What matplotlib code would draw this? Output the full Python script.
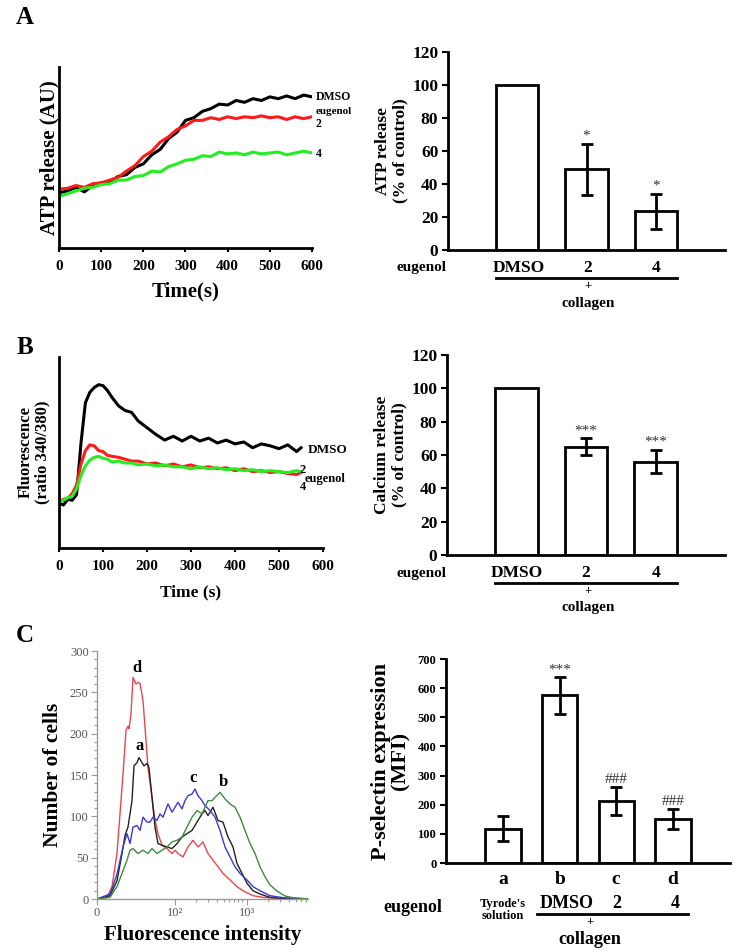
import numpy as np
import matplotlib
matplotlib.use("Agg")
import matplotlib.pyplot as plt
from matplotlib.lines import Line2D

plt.rcParams['font.family'] = ['Liberation Serif', 'DejaVu Serif']
plt.rcParams['font.weight'] = 'bold'
plt.rcParams['axes.labelweight'] = 'bold'
plt.rcParams['axes.linewidth'] = 2

# ---- Panel A: ATP release traces ----
a_time = np.arange(0, 601, 20)
a_dmso = [30.5, 31.5, 33.5, 31.0, 34.5, 36.0, 36.5, 39.5, 40.5, 44.5, 46.5, 51.5, 54.5, 60.5, 64.0, 70.5,
          72.0, 75.5, 77.0, 79.5, 79.0, 81.5, 80.5, 82.5, 81.5, 83.5, 82.5, 84.0, 82.5, 84.5, 83.5]
a_eug2 = [32.5, 33.0, 34.5, 33.5, 35.5, 36.0, 37.5, 39.0, 42.5, 45.5, 50.5, 53.5, 58.5, 61.5, 65.5, 67.5,
          70.5, 70.5, 72.0, 71.0, 72.5, 71.5, 72.5, 72.0, 73.0, 72.0, 72.5, 71.0, 72.5, 71.5, 72.5]
a_eug4 = [28.5, 30.0, 31.5, 33.0, 33.5, 35.0, 35.5, 37.5, 37.5, 39.5, 40.0, 42.5, 42.0, 45.0, 46.5, 48.5,
          49.0, 51.0, 50.5, 53.0, 52.0, 52.5, 51.5, 53.0, 52.0, 52.5, 53.0, 51.5, 52.5, 53.5, 52.5]

# ---- Panel A: ATP release bars ----
groups = ['DMSO', '2', '4']
atp_mean = [100, 49, 23.5]
atp_err = [0, 15.5, 10.5]
atp_sig = ['', '*', '*']

# ---- Panel B: calcium traces ----
b_time = [0, 10, 20, 30, 40, 50, 60, 70, 80, 90, 100, 110, 120, 135, 150, 165, 180, 200, 220, 240, 260,
          280, 300, 320, 340, 360, 380, 400, 420, 440, 460, 480, 500, 520, 540, 550]
b_dmso = [23.5, 22.5, 25.5, 25.0, 28.0, 55.0, 76.0, 81.5, 84.0, 85.5, 85.0, 82.5, 79.0, 74.5, 72.0, 71.0,
          66.5, 63.0, 59.5, 56.5, 58.5, 56.0, 58.5, 56.0, 57.5, 55.0, 56.5, 54.5, 55.5, 52.5, 54.5, 53.5,
          52.0, 54.0, 50.5, 52.5]
b_eug2 = [24.0, 25.5, 26.0, 28.5, 33.0, 44.0, 51.0, 54.0, 53.5, 51.0, 50.5, 48.5, 48.0, 47.5, 46.5, 45.5,
          45.5, 44.0, 44.5, 43.0, 44.0, 42.5, 43.5, 42.0, 42.5, 41.5, 42.0, 40.5, 41.5, 40.0, 40.5, 39.5,
          40.0, 39.0, 38.5, 39.5]
b_eug4 = [24.0, 25.0, 26.5, 27.0, 31.0, 38.0, 43.0, 46.0, 47.5, 48.0, 47.0, 46.5, 45.0, 45.5, 44.5, 44.5,
          43.5, 44.0, 43.0, 43.5, 42.5, 42.5, 41.5, 42.5, 41.5, 42.0, 41.0, 41.5, 40.5, 41.0, 40.0, 40.5,
          40.0, 39.5, 40.5, 40.0]

# ---- Panel B: calcium bars ----
ca_mean = [100, 65, 56]
ca_err = [0, 5, 7]
ca_sig = ['', '***', '***']

# ---- Panel C: flow cytometry histograms (x = display channel) ----
red_x = [0, 10, 15, 20, 23, 26, 29, 31, 32, 34, 36, 39, 41, 43, 46, 48, 51, 55, 58, 61, 65, 70, 75, 78, 81,
         86, 91, 96, 101, 106, 111, 116, 121, 126, 133, 140, 146, 156, 166, 183, 211]
red_y = [0, 2, 15, 55, 103, 151, 204, 209, 206, 224, 268, 260, 262, 261, 240, 208, 159, 123, 95, 79, 65, 61,
         55, 59, 55, 51, 63, 71, 63, 69, 55, 47, 39, 31, 23, 15, 10, 4, 2, 0.5, 0]
black_x = [0, 13, 20, 25, 28, 31, 35, 37, 40, 42, 45, 47, 50, 52, 55, 58, 61, 65, 70, 75, 80, 85, 90, 95, 100,
           105, 108, 111, 116, 121, 126, 131, 136, 140, 145, 150, 156, 163, 173, 186, 211]
black_y = [0, 4, 22, 55, 77, 87, 119, 161, 165, 171, 165, 161, 164, 159, 123, 87, 67, 65, 63, 61, 67, 75, 79,
           83, 93, 103, 107, 101, 111, 95, 93, 75, 63, 43, 31, 19, 10, 6, 2, 0.5, 0]
blue_x = [0, 13, 20, 26, 30, 33, 36, 40, 43, 46, 50, 53, 56, 60, 63, 66, 71, 75, 78, 81, 85, 88, 91, 95, 98,
          101, 105, 108, 113, 118, 123, 128, 133, 138, 143, 150, 156, 163, 173, 186, 206, 211]
blue_y = [0, 6, 30, 63, 79, 67, 87, 89, 83, 99, 93, 93, 99, 95, 103, 99, 115, 105, 111, 117, 109, 119, 125,
          127, 133, 125, 119, 113, 107, 99, 83, 63, 51, 39, 31, 23, 15, 10, 4, 1.6, 0.5, 0]
green_x = [0, 13, 20, 25, 30, 33, 36, 41, 46, 51, 55, 60, 65, 70, 75, 80, 85, 90, 95, 100, 105, 111, 115, 118,
           123, 128, 133, 138, 143, 148, 153, 158, 163, 168, 173, 180, 188, 196, 211]
green_y = [0, 2, 15, 31, 47, 59, 61, 55, 59, 55, 61, 55, 59, 63, 69, 71, 75, 87, 99, 107, 103, 119, 119, 123,
           129, 121, 115, 111, 99, 83, 67, 55, 39, 27, 17, 9.6, 3.6, 1.6, 0]
c_ticks = [0, 78, 150]
c_ticklabels = ['0', '10²', '10³']

# ---- Panel C: P-selectin bars ----
c_groups = ['a', 'b', 'c', 'd']
psel_mean = [118, 575, 212, 150]
psel_err = [43, 63, 48, 35]
psel_sig = ['', '***', '###', '###']

W, H = 737, 952
fig = plt.figure(figsize=(W / 100, H / 100), dpi=100)


def px_axes(l, t, r, b):
    return fig.add_axes([l / W, 1 - b / H, (r - l) / W, (b - t) / H])


def ftext(x, y, s, **kw):
    kw.setdefault('ha', 'center')
    kw.setdefault('va', 'center')
    fig.text(x / W, 1 - y / H, s, **kw)


def fline(x0, x1, y):
    fig.add_artist(Line2D([x0 / W, x1 / W], [1 - y / H] * 2, color='k', lw=2))


def trace_axes(ax, xmax):
    ax.spines[['top', 'right']].set_visible(False)
    ax.set_yticks([])
    ax.set_xlim(0, xmax)
    ax.set_ylim(0, 100)
    ax.set_xticks(np.arange(0, 601, 100))
    ax.tick_params(axis='x', length=3, width=1.5, labelsize=11, pad=6)


def bar_axes(ax, pos, mean, err, sig, ymax, ystep, xmax, width, tsize, sigsize):
    ax.bar(pos, mean, width=width, color='white', edgecolor='black', linewidth=2)
    for p, m, e, s in zip(pos, mean, err, sig):
        if e > 0:
            ax.errorbar(p, m, yerr=e, color='black', capsize=4, elinewidth=2, capthick=2)
        if s:
            ax.text(p, m + e + ymax * 0.005, s, ha='center', va='bottom', fontsize=sigsize,
                    fontweight='normal', color='#333333')
    ax.spines[['top', 'right']].set_visible(False)
    ax.set_xlim(0, xmax)
    ax.set_ylim(0, ymax)
    ax.set_yticks(np.arange(0, ymax + 1, ystep))
    ax.set_xticks([])
    ax.tick_params(axis='y', length=4, width=1.5, labelsize=tsize, pad=3)


# ===== A left =====
ax = px_axes(59, 67, 312, 248)
ax.plot(a_time, a_dmso, color='black', lw=2.2)
ax.plot(a_time, a_eug2, color='#ff1a1a', lw=2.2)
ax.plot(a_time, a_eug4, color='#22ee22', lw=2.2)
trace_axes(ax, 600)
ax.set_xlabel('Time(s)', fontsize=15, labelpad=6)
ax.set_ylabel('ATP release (AU)', fontsize=15, labelpad=0)
ftext(316, 97, 'DMSO', ha='left', fontsize=8.5)
ftext(316, 112, 'eugenol', ha='left', fontsize=8)
ftext(316, 124, '2', ha='left', fontsize=8.5)
ftext(316, 154, '4', ha='left', fontsize=8.5)
ftext(25, 17, 'A', fontsize=18)

# ===== A right =====
ax = px_axes(448, 52, 725, 250)
bar_axes(ax, [1, 2, 3], atp_mean, atp_err, atp_sig, 120, 20, 4, 0.61, 12.5, 11)
ax.set_ylabel('ATP release\n(% of control)', fontsize=12.5, labelpad=3, linespacing=1.1)
ftext(422, 268, 'eugenol', fontsize=11)
for x, g in zip([519, 588, 656], groups):
    ftext(x, 268, g, fontsize=12.5)
fline(496, 677, 278)
ftext(588, 286, '+', fontsize=9)
ftext(588, 303, 'collagen', fontsize=11)

# ===== B left =====
ax = px_axes(59, 357, 323, 548)
ax.plot(b_time, b_dmso, color='black', lw=2.2)
ax.plot(b_time, b_eug2, color='#ff1a1a', lw=2.2)
ax.plot(b_time, b_eug4, color='#22ee22', lw=2.2)
trace_axes(ax, 600)
ax.set_xlabel('Time (s)', fontsize=12.5, labelpad=8)
ax.set_ylabel('Fluorescence\n(ratio 340/380)', fontsize=12, labelpad=6, linespacing=1.1)
ftext(308, 450, 'DMSO', ha='left', fontsize=9.5)
ftext(300, 470, '2', ha='left', fontsize=9)
ftext(305, 479, 'eugenol', ha='left', fontsize=9)
ftext(300, 487, '4', ha='left', fontsize=9)
ftext(25, 348, 'B', fontsize=18)

# ===== B right =====
ax = px_axes(447, 355, 725, 555)
bar_axes(ax, [1, 2, 3], ca_mean, ca_err, ca_sig, 120, 20, 4, 0.61, 12.5, 11)
ax.set_ylabel('Calcium release\n(% of control)', fontsize=12.5, labelpad=3, linespacing=1.1)
ftext(422, 573, 'eugenol', fontsize=11)
for x, g in zip([517, 586, 656], groups):
    ftext(x, 573, g, fontsize=12.5)
fline(495, 677, 583)
ftext(588, 591, '+', fontsize=9)
ftext(588, 608, 'collagen', fontsize=11)

# ===== C left =====
ax = px_axes(97, 651, 308, 899)
ax.plot(red_x, red_y, color='#e8474d', lw=1)
ax.plot(black_x, black_y, color='#222222', lw=1)
ax.plot(blue_x, blue_y, color='#3a3ad0', lw=1)
ax.plot(green_x, green_y, color='#3d8a3d', lw=1)
ax.set_xlim(0, 211)
ax.set_ylim(0, 300)
ax.spines[['top', 'right']].set_visible(False)
for s in ['left', 'bottom']:
    ax.spines[s].set_color('#999999')
    ax.spines[s].set_linewidth(1)
ax.set_xticks(c_ticks)
ax.set_xticklabels(c_ticklabels)
ax.set_yticks(np.arange(0, 301, 50))
minor_x = [78 + 70 * np.log10(k) for k in range(2, 10)] + [150 + 70 * np.log10(k) for k in range(2, 8)]
ax.set_xticks(minor_x, minor=True)
ax.set_yticks(np.arange(0, 301, 10), minor=True)
ax.tick_params(which='both', color='#999999', labelcolor='#555555', width=0.8)
ax.tick_params(which='major', length=4, labelsize=9, pad=2)
ax.tick_params(which='minor', length=2)
for lab in ax.get_xticklabels() + ax.get_yticklabels():
    lab.set_fontweight('normal')
ax.set_xlabel('Fluorescence intensity', fontsize=15, labelpad=4)
ax.set_ylabel('Number of cells', fontsize=15.5, labelpad=5)
ax.text(40, 270, 'd', ha='center', va='bottom', fontsize=12)
ax.text(43, 175, 'a', ha='center', va='bottom', fontsize=12)
ax.text(96, 137, 'c', ha='center', va='bottom', fontsize=12)
ax.text(126, 132, 'b', ha='center', va='bottom', fontsize=12)
ftext(25, 635, 'C', fontsize=18)

# ===== C right =====
ax = px_axes(446, 659, 730, 863)
bar_axes(ax, [1, 2, 3, 4], psel_mean, psel_err, psel_sig, 700, 100, 5, 0.63, 9, 11)
ax.set_ylabel('P-selectin expression\n(MFI)', fontsize=16, labelpad=5, linespacing=1.0)
for x, g in zip([503, 560, 616, 673], c_groups):
    ftext(x, 880, g, fontsize=14)
ftext(413, 907, 'eugenol', fontsize=13)
ftext(503, 910, "Tyrode's\nsolution", fontsize=9, linespacing=1.1)
ftext(567, 903, 'DMSO', fontsize=13)
ftext(617, 903, '2', fontsize=13)
ftext(675, 903, '4', fontsize=13)
fline(537, 688, 914)
ftext(590, 922, '+', fontsize=9)
ftext(590, 940, 'collagen', fontsize=13)

fig.savefig('out.png', dpi=100)
